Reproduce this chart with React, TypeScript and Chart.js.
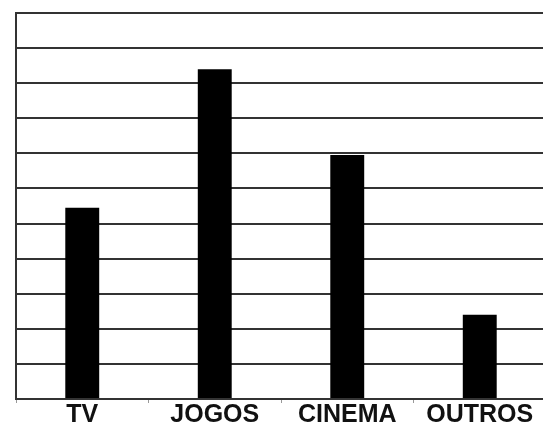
import React, { useEffect, useRef } from "react";
import { Chart, registerables } from "chart.js";

Chart.register(...registerables);

const categories = ["TV", "JOGOS", "CINEMA", "OUTROS"];
const values = [5.45, 9.4, 6.95, 2.4];
const yMax = 11;

export default function App() {
  const ref = useRef<HTMLCanvasElement | null>(null);
  useEffect(() => {
    if (!ref.current) return;
    const chart = new Chart(ref.current, {
      type: "bar",
      data: {
        labels: categories,
        datasets: [
          {
            data: values,
            backgroundColor: "#000000",
            borderWidth: 0,
            barPercentage: 0.256,
            categoryPercentage: 1,
          },
        ],
      },
      options: {
        responsive: false,
        animation: false,
        layout: { padding: { left: 16, top: 13, right: 14, bottom: 0 } },
        plugins: { legend: { display: false }, tooltip: { enabled: false } },
        scales: {
          x: {
            offset: true,
            grid: {
              display: true,
              drawOnChartArea: false,
              drawTicks: true,
              tickLength: 4,
              color: "#999999",
              offset: true,
            },
            border: { display: true, color: "#333333", width: 2 },
            ticks: {
              color: "#111111",
              padding: -3,
              font: { family: "'Liberation Sans', Arial, sans-serif", size: 25, weight: "bold" },
            },
          },
          y: {
            min: 0,
            max: yMax,
            grid: { color: "#333333", lineWidth: 2, drawTicks: false },
            border: { display: true, color: "#333333", width: 2 },
            ticks: { display: false, stepSize: 1 },
          },
        },
      },
    });
    return () => chart.destroy();
  }, []);
  return (
    <div
      style={{
        position: "fixed",
        left: 0,
        top: 0,
        width: 543,
        height: 427,
        overflow: "hidden",
        background: "#ffffff",
      }}
    >
      <canvas ref={ref} width={560} height={427} style={{ display: "block" }} />
    </div>
  );
}
